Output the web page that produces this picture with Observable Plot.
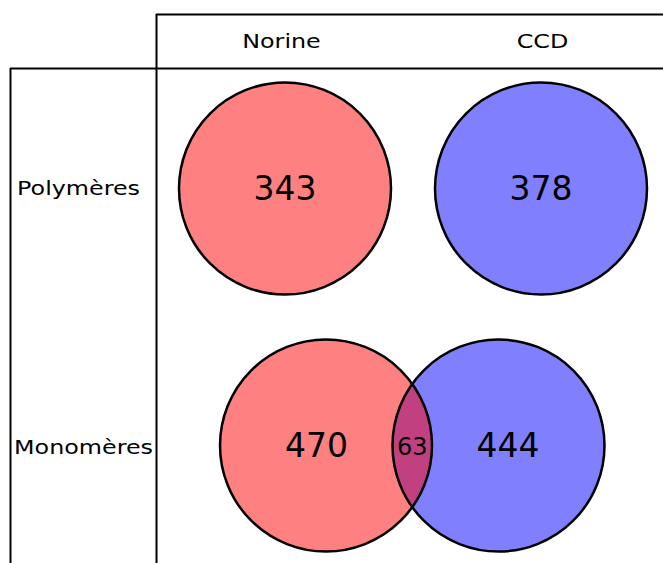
<!DOCTYPE html>
<html><head><meta charset="utf-8">
<script src="https://cdn.jsdelivr.net/npm/d3@7"></script>
<script src="https://cdn.jsdelivr.net/npm/@observablehq/plot@0.6"></script>
<style>body{margin:0;background:#fff}</style>
</head><body><div id="chart"></div>
<script>
// Data
const columns = ["Norine", "CCD"];
const rows = ["Polymères", "Monomères"];
const polymeres = [343, 378];        // Norine only, CCD only (no overlap)
const monomeres = [470, 63, 444];    // Norine only, both, CCD only
const setColors = ["#ff8080", "#8080ff"];
const overlapColor = "#c04080";

// Layout (pixel-like units mapped by linear scales)
const W = 663, H = 563;
const colX = [284.5, 540.5];
const headerX = [281, 542];
const rowY = [188, 445];
const rowLabelX = [78, 83];
const R = 106;
const headerY = 41;
const gridTop = 14, gridMid = 68, gridLeft = 10, gridInner = 156;
const monoCenters = [325.5, 498];
const labelStretch = 1.19;

const circles = [
  {x: colX[0], y: rowY[0], fill: setColors[0]},
  {x: colX[1], y: rowY[0], fill: setColors[1]},
  {x: monoCenters[0], y: rowY[1], fill: setColors[0]},
  {x: monoCenters[1], y: rowY[1], fill: setColors[1]}
];

// lens geometry (intersection of the two monomer circles)
const xL = monoCenters[1] - R, xR = monoCenters[0] + R;
const lens = d3.range(0, 301).map(i => {
  const x = xL + (xR - xL) * i / 300;
  const h = Math.sqrt(Math.max(0, Math.min(R*R - (x - monoCenters[0])**2, R*R - (x - monoCenters[1])**2)));
  return {x, y1: rowY[1] - h, y2: rowY[1] + h};
});
const lensMid = (xL + xR) / 2;

const numberLabels = [
  {x: colX[0], y: rowY[0] + 1, t: String(polymeres[0]), s: 33},
  {x: colX[1], y: rowY[0] + 1, t: String(polymeres[1]), s: 33},
  {x: monoCenters[0] - 9.5, y: rowY[1] + 1, t: String(monomeres[0]), s: 33},
  {x: lensMid, y: rowY[1] + 2, t: String(monomeres[1]), s: 24},
  {x: monoCenters[1] + 9.5, y: rowY[1] + 1, t: String(monomeres[2]), s: 33}
];

const font = "DejaVu Sans, sans-serif";

const chart = Plot.plot({
  width: W, height: H, margin: 0,
  x: {domain: [0, W], axis: null},
  y: {domain: [0, H], reverse: true, axis: null},
  style: {fontFamily: font, background: "#fff"},
  marks: [
    Plot.dot(circles, {x: "x", y: "y", r: R, fill: "fill", stroke: "none"}),
    Plot.areaY(lens, {x: "x", y1: "y1", y2: "y2", fill: overlapColor, curve: "linear"}),
    Plot.dot(circles, {x: "x", y: "y", r: R, fill: "none", stroke: "black", strokeWidth: 2.5}),
    Plot.ruleY([gridTop], {x1: gridInner, x2: W, stroke: "black", strokeWidth: 2}),
    Plot.ruleY([gridMid], {x1: gridLeft, x2: W, stroke: "black", strokeWidth: 2}),
    Plot.ruleX([gridInner], {y1: gridTop, y2: H, stroke: "black", strokeWidth: 2}),
    Plot.ruleX([gridLeft], {y1: gridMid, y2: H, stroke: "black", strokeWidth: 2}),
    Plot.text(columns, {x: (d, i) => headerX[i], y: headerY, text: d => d, fontSize: 20, fill: "black", className: "stretch"}),
    Plot.text(rows, {x: (d, i) => rowLabelX[i], y: (d, i) => rowY[i] + (i ? 2 : 0), text: d => d, fontSize: 20, fill: "black", className: "stretch"}),
    Plot.text(numberLabels, {x: "x", y: "y", text: "t", fontSize: d => d.s, fill: "black"})
  ]
});
document.getElementById("chart").append(chart);
// the reference's header / row labels are drawn slightly wider than the font's natural width
d3.select(chart).selectAll("g.stretch text").each(function() {
  const len = this.getComputedTextLength();
  this.setAttribute("textLength", len * labelStretch);
  this.setAttribute("lengthAdjust", "spacingAndGlyphs");
});
</script>
</body></html>
